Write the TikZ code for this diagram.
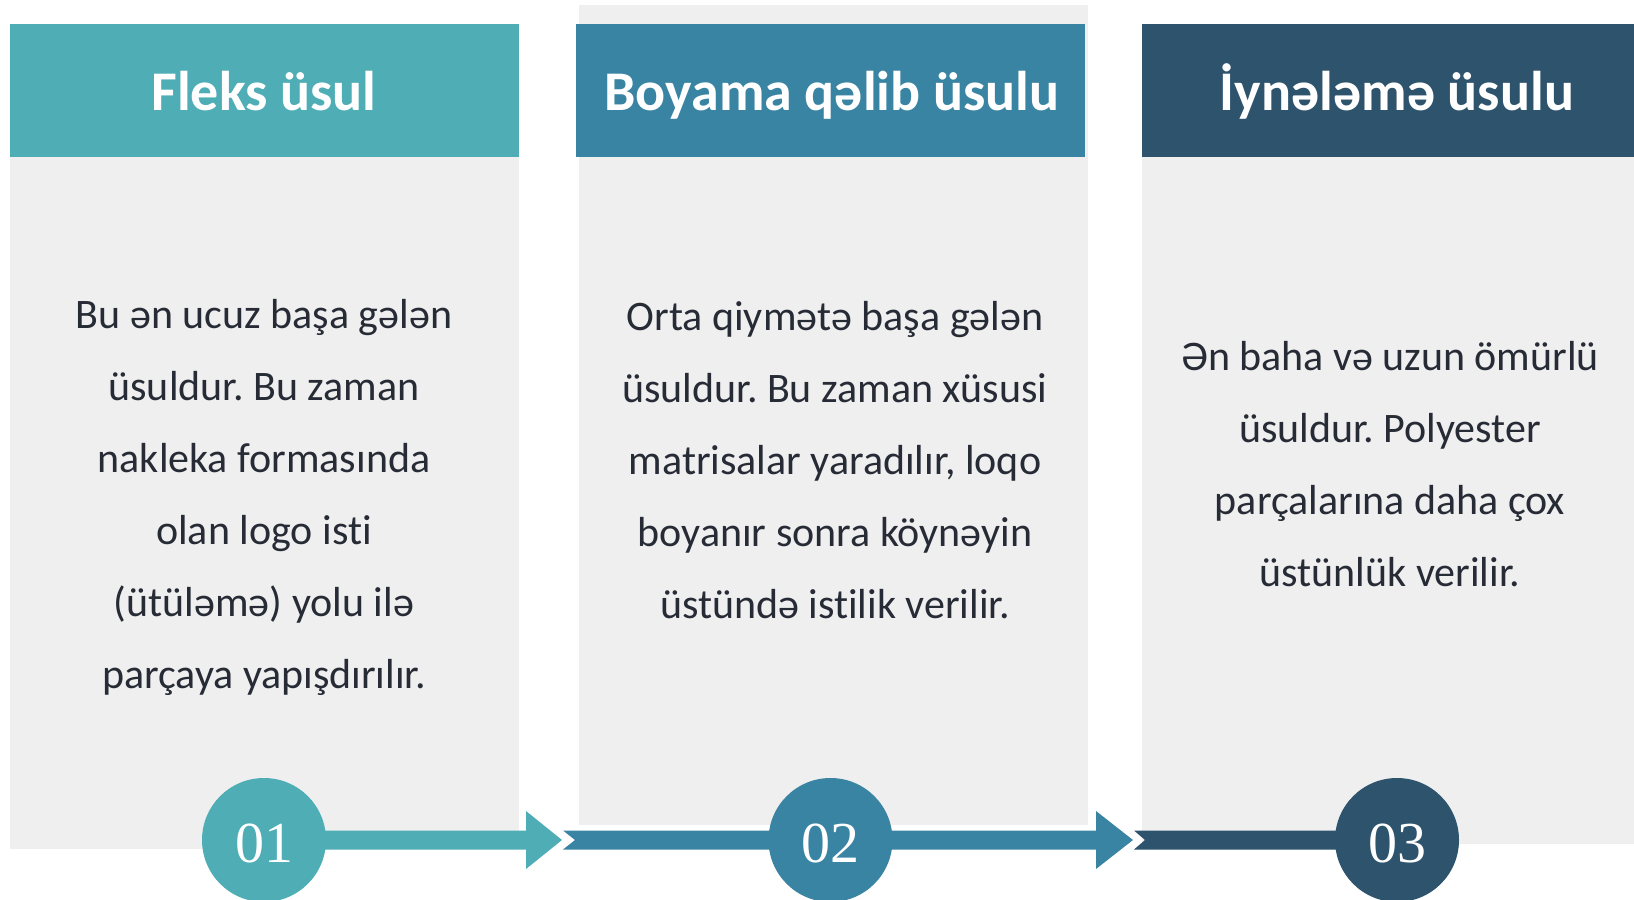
\documentclass[tikz,border=0pt]{standalone}
\usepackage{fontspec}
\usetikzlibrary{calc}
\setmainfont[Ligatures=NoCommon]{Carlito}
\newfontfamily\numfont{Liberation Serif}
\frenchspacing
\definecolor{cteal}{HTML}{4FADB5}
\definecolor{cblue}{HTML}{3A84A3}
\definecolor{cdark}{HTML}{2D536D}
\definecolor{cgrey}{HTML}{EFEFEF}
\definecolor{ctext}{HTML}{262B35}
\tikzset{
  panelbg/.style={fill=cgrey, draw=none, inner sep=0pt, outer sep=0pt, minimum width=254.5pt, minimum height=412.5pt},
  headbox/.style={draw=none, inner sep=0pt, outer sep=0pt, minimum width=254.5pt, minimum height=66.5pt},
  headtext/.style={text=white, font=\fontsize{28}{30}\selectfont\bfseries, anchor=base, inner sep=0pt},
  bodytext/.style={text=ctext, font=\fontsize{21}{36}\selectfont, align=center, inner sep=0pt},
  numcircle/.style={circle, minimum size=62pt, inner sep=0pt, outer sep=0pt, draw=none},
  numtext/.style={text=white, font=\numfont\fontsize{29}{30}\selectfont, anchor=base, inner sep=0pt},
}
\begin{document}
\begin{tikzpicture}[x=0.5pt,y=-0.5pt]
\useasboundingbox (0,0) rectangle (1634,900);
\clip (0,0) rectangle (1634,900);
% panel backgrounds
\node[panelbg] (p1) at (264.5,436.5) {};
\node[panelbg, minimum height=410pt] (p2) at (833.5,415) {};
\node[panelbg, minimum width=246pt, minimum height=410pt] (p3) at (1388,434) {};
% headers
\node[headbox, fill=cteal] (h1) at (264.5,90.5) {};
\node[headbox, fill=cblue] (h2) at (830.5,90.5) {};
\node[headbox, fill=cdark, minimum width=246pt] (h3) at (1388,90.5) {};
\node[headtext] (t1) at (264,110) {Fleks üsul};
\node[headtext] (t2) at (832,110) {Boyama qəlib üsulu};
\node[headtext] (t3) at (1397,110) {İynələmə üsulu};
% body texts
\node[bodytext] (b1) at (264,497) {Bu ən ucuz başa gələn\\üsuldur. Bu zaman\\nakleka formasında\\olan logo isti\\(ütüləmə) yolu ilə\\parçaya yapışdırılır.};
\node[bodytext] (b2) at (835,460) {Orta qiymətə başa gələn\\üsuldur. Bu zaman xüsusi\\matrisalar yaradılır, loqo\\boyanır sonra köynəyin\\üstündə istilik verilir.};
\node[bodytext] (b3) at (1390,464) {Ən baha və uzun ömürlü\\üsuldur. Polyester\\parçalarına daha çox\\üstünlük verilir.};
% circles positions
\coordinate (c1) at (264,840);
\coordinate (c2) at (830.5,840);
\coordinate (c3) at (1397,840);
% arrows
\fill[cteal] ($(c1)+(0,-9.5)$) -- (526,830.5) -- (526,811) -- (562,840) -- (526,869) -- (526,849.5) -- ($(c1)+(0,9.5)$) -- cycle;
\fill[cblue] (563,830.5) -- (1096,830.5) -- (1096,811) -- (1133,840) -- (1096,869) -- (1096,849.5) -- (563,849.5) -- (575,840) -- cycle;
\fill[cdark] (1134,830.5) -- ($(c3)+(0,-9.5)$) -- ($(c3)+(0,9.5)$) -- (1134,849.5) -- (1145,840) -- cycle;
% circles
\node[numcircle, fill=cteal] (n1) at (c1) {};
\node[numcircle, fill=cblue] (n2) at (c2) {};
\node[numcircle, fill=cdark] (n3) at (c3) {};
\node[numtext] at ($(n1)+(0,22)$) {01};
\node[numtext] at ($(n2)+(0,22)$) {02};
\node[numtext] at ($(n3)+(0,22)$) {03};
\end{tikzpicture}
\end{document}
